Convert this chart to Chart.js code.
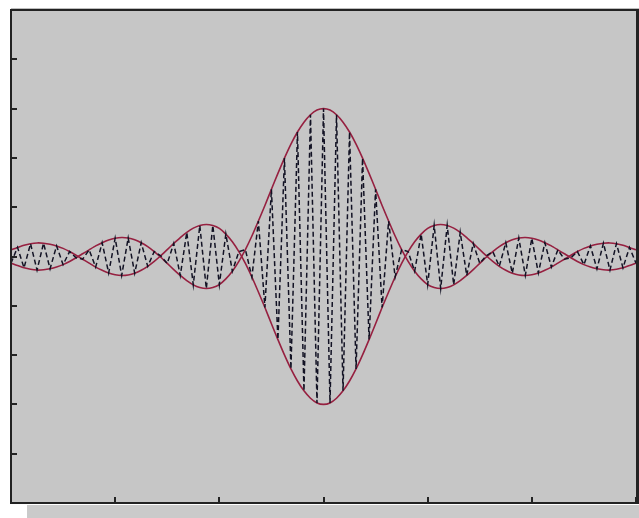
<!DOCTYPE html>
<html>
<head>
<meta charset="utf-8">
<script src="https://cdn.jsdelivr.net/npm/chart.js@4/dist/chart.umd.min.js"></script>
<style>
  html, body { margin: 0; padding: 0; background: #fff; }
  #wrap { width: 639px; height: 518px; }
</style>
</head>
<body>
<div id="wrap"><canvas id="sincChart" width="639" height="518"></canvas></div>
<script>
// sample grid (x), step 1/16
const xs = [
  -3, -2.9375, -2.875, -2.8125, -2.75, -2.6875, -2.625, -2.5625, -2.5, -2.4375, -2.375, -2.3125,
  -2.25, -2.1875, -2.125, -2.0625, -2, -1.9375, -1.875, -1.8125, -1.75, -1.6875, -1.625, -1.5625,
  -1.5, -1.4375, -1.375, -1.3125, -1.25, -1.1875, -1.125, -1.0625, -1, -0.9375, -0.875, -0.8125,
  -0.75, -0.6875, -0.625, -0.5625, -0.5, -0.4375, -0.375, -0.3125, -0.25, -0.1875, -0.125, -0.0625,
  0,
  0.0625, 0.125, 0.1875, 0.25, 0.3125, 0.375, 0.4375, 0.5, 0.5625, 0.625, 0.6875, 0.75,
  0.8125, 0.875, 0.9375, 1, 1.0625, 1.125, 1.1875, 1.25, 1.3125, 1.375, 1.4375, 1.5,
  1.5625, 1.625, 1.6875, 1.75, 1.8125, 1.875, 1.9375, 2, 2.0625, 2.125, 2.1875, 2.25,
  2.3125, 2.375, 2.4375, 2.5, 2.5625, 2.625, 2.6875, 2.75, 2.8125, 2.875, 2.9375, 3
];

// upper envelope
const envUpper = [
  -0.027, -0.037, -0.046, -0.052, -0.055, -0.054, -0.050, -0.043, -0.033, -0.020, -0.005, 0.011,
  0.027, 0.043, 0.056, 0.067, 0.074, 0.077, 0.075, 0.068, 0.056, 0.040, 0.020, -0.003,
  -0.028, -0.053, -0.077, -0.098, -0.115, -0.126, -0.130, -0.126, -0.114, -0.091, -0.060, -0.020,
  0.028, 0.083, 0.144, 0.207, 0.273, 0.337, 0.399, 0.456, 0.505, 0.545, 0.575, 0.594,
  0.600,
  0.594, 0.575, 0.545, 0.505, 0.456, 0.399, 0.337, 0.273, 0.207, 0.144, 0.083, 0.028,
  -0.020, -0.060, -0.091, -0.114, -0.126, -0.130, -0.126, -0.115, -0.098, -0.077, -0.053, -0.028,
  -0.003, 0.020, 0.040, 0.056, 0.068, 0.075, 0.077, 0.074, 0.067, 0.056, 0.043, 0.027,
  0.011, -0.005, -0.020, -0.033, -0.043, -0.050, -0.054, -0.055, -0.052, -0.046, -0.037, -0.027
];

// lower envelope
const envLower = [
  0.027, 0.037, 0.046, 0.052, 0.055, 0.054, 0.050, 0.043, 0.033, 0.020, 0.005, -0.011,
  -0.027, -0.043, -0.056, -0.067, -0.074, -0.077, -0.075, -0.068, -0.056, -0.040, -0.020, 0.003,
  0.028, 0.053, 0.077, 0.098, 0.115, 0.126, 0.130, 0.126, 0.114, 0.091, 0.060, 0.020,
  -0.028, -0.083, -0.144, -0.207, -0.273, -0.337, -0.399, -0.456, -0.505, -0.545, -0.575, -0.594,
  -0.600,
  -0.594, -0.575, -0.545, -0.505, -0.456, -0.399, -0.337, -0.273, -0.207, -0.144, -0.083, -0.028,
  0.020, 0.060, 0.091, 0.114, 0.126, 0.130, 0.126, 0.115, 0.098, 0.077, 0.053, 0.028,
  0.003, -0.020, -0.040, -0.056, -0.068, -0.075, -0.077, -0.074, -0.067, -0.056, -0.043, -0.027,
  -0.011, 0.005, 0.020, 0.033, 0.043, 0.050, 0.054, 0.055, 0.052, 0.046, 0.037, 0.027
];

// modulated carrier samples
const carrier = [
  -0.027, 0.037, -0.046, 0.052, -0.055, 0.054, -0.050, 0.043, -0.033, 0.020, -0.005, -0.011,
  0.027, -0.043, 0.056, -0.067, 0.074, -0.077, 0.075, -0.068, 0.056, -0.040, 0.020, 0.003,
  -0.028, 0.053, -0.077, 0.098, -0.115, 0.126, -0.130, 0.126, -0.114, 0.091, -0.060, 0.020,
  0.028, -0.083, 0.144, -0.207, 0.273, -0.337, 0.399, -0.456, 0.505, -0.545, 0.575, -0.594,
  0.600,
  -0.594, 0.575, -0.545, 0.505, -0.456, 0.399, -0.337, 0.273, -0.207, 0.144, -0.083, 0.028,
  0.020, -0.060, 0.091, -0.114, 0.126, -0.130, 0.126, -0.115, 0.098, -0.077, 0.053, -0.028,
  0.003, 0.020, -0.040, 0.056, -0.068, 0.075, -0.077, 0.074, -0.067, 0.056, -0.043, 0.027,
  -0.011, -0.005, 0.020, -0.033, 0.043, -0.050, 0.054, -0.055, 0.052, -0.046, 0.037, -0.027
];

const xTicks = [-3, -2, -1, 0, 1, 2, 3];
const yTicks = [-1, -0.8, -0.6, -0.4, -0.2, 0, 0.2, 0.4, 0.6, 0.8, 1];

const PLOT_BG  = '#c6c6c6';
const FRAME    = '#222222';
const ENV_COL  = '#962040';
const WAVE_COL = '#121224';

const toPoints = arr => arr.map((y, i) => ({ x: xs[i], y }));

// grey plot box, drop shadow, frame and inward tick marks
const framePlugin = {
  id: 'frame',
  beforeDraw(chart) {
    const { ctx, chartArea: ca } = chart;
    ctx.save();
    ctx.fillStyle = '#cacaca';
    ctx.fillRect(27, ca.bottom + 2, chart.width - 27, chart.height - ca.bottom - 2);
    ctx.fillStyle = '#bdbdbd';
    ctx.fillRect(ca.left, ca.top - 2, chart.width - ca.left, 1);
    ctx.fillStyle = PLOT_BG;
    ctx.fillRect(ca.left, ca.top, ca.right - ca.left, ca.bottom - ca.top);
    ctx.restore();
  },
  afterDraw(chart) {
    const { ctx, chartArea: ca, scales } = chart;
    ctx.save();
    ctx.fillStyle = FRAME;
    yTicks.forEach(v => {
      const py = Math.round(scales.y.getPixelForValue(v));
      ctx.fillRect(ca.left, py - 1, 6, 2);
    });
    xTicks.forEach(v => {
      const px = Math.round(scales.x.getPixelForValue(v));
      ctx.fillRect(px - 1, ca.bottom - 6, 2, 6);
    });
    const w = ca.right - ca.left, h = ca.bottom - ca.top;
    ctx.fillRect(ca.left - 1, ca.top - 1, w + 4, 2);
    ctx.fillRect(ca.left - 1, ca.top - 1, 2, h + 2);
    ctx.fillRect(ca.left - 1, ca.bottom - 1, w + 4, 2);
    ctx.fillRect(ca.right, ca.top - 1, 3, h + 2);
    ctx.restore();
  }
};

new Chart(document.getElementById('sincChart'), {
  type: 'line',
  data: {
    datasets: [
      {
        label: 'carrier',
        data: toPoints(carrier),
        borderColor: WAVE_COL,
        borderWidth: 1.5,
        borderDash: [5, 3],
        pointRadius: 0,
        tension: 0
      },
      {
        label: 'envelope +',
        data: toPoints(envUpper),
        borderColor: ENV_COL,
        borderWidth: 1.6,
        pointRadius: 0,
        tension: 0.2
      },
      {
        label: 'envelope -',
        data: toPoints(envLower),
        borderColor: ENV_COL,
        borderWidth: 1.6,
        pointRadius: 0,
        tension: 0.2
      }
    ]
  },
  options: {
    responsive: false,
    animation: false,
    layout: { padding: { left: 11, top: 10, right: 3, bottom: 15 } },
    plugins: {
      legend: { display: false },
      tooltip: { enabled: false }
    },
    scales: {
      x: { type: 'linear', min: -3, max: 3, display: false },
      y: { type: 'linear', min: -1, max: 1, display: false }
    }
  },
  plugins: [framePlugin]
});
</script>
</body>
</html>
